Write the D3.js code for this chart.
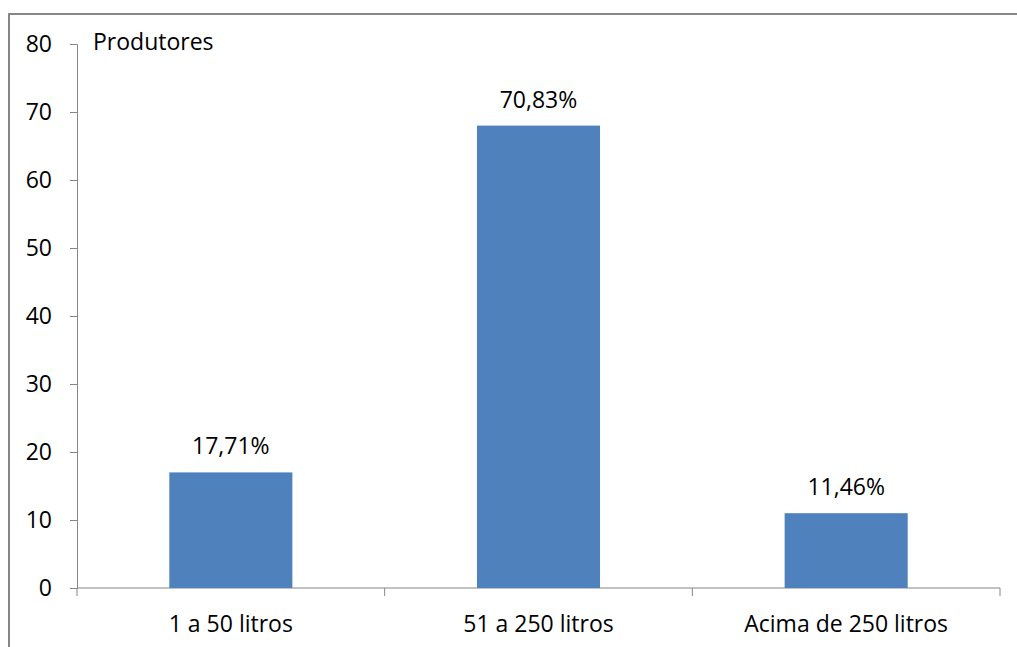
<!DOCTYPE html>
<html>
<head>
<meta charset="utf-8">
<script src="https://cdn.jsdelivr.net/npm/d3@7"></script>
<style>
  html, body { margin: 0; padding: 0; background: #fff; }
  svg text { font-family: "Open Sans", Lato, sans-serif; fill: #000; }
</style>
</head>
<body>
<svg id="chart" width="1017" height="647"></svg>
<script>
// Producers grouped by daily volume range
const categories = ["1 a 50 litros", "51 a 250 litros", "Acima de 250 litros"];
const producers = [17, 68, 11];
const yTicks = [0, 10, 20, 30, 40, 50, 60, 70, 80];
const axisTitle = "Produtores";

const W = 1017, H = 647;
const margin = { left: 77, right: 17, top: 44, bottom: 59 };
const fontSize = 23;
const svg = d3.select("#chart");

// Outer chart frame
svg.append("rect")
  .attr("x", 9).attr("y", 14)
  .attr("width", W + 20).attr("height", H + 20)
  .attr("fill", "none").attr("stroke", "#868686").attr("stroke-width", 2);

const x = d3.scaleBand()
  .domain(categories)
  .range([margin.left, W - margin.right])
  .paddingInner(0.6).paddingOuter(0.3);

const y = d3.scaleLinear()
  .domain([0, 80])
  .range([H - margin.bottom, margin.top]);

const axisColor = "#868686";

// Y axis
const yAxis = svg.append("g")
  .attr("transform", `translate(${margin.left},0)`)
  .call(d3.axisLeft(y).tickValues(yTicks).tickSize(7).tickPadding(18).tickFormat(d3.format("d")));
yAxis.select(".domain").attr("stroke", axisColor);
yAxis.selectAll(".tick line").attr("stroke", axisColor);
yAxis.selectAll(".tick text").attr("font-size", fontSize).attr("fill", "#000")
  .style("font-family", "'Open Sans', Lato, sans-serif");

// X axis: ticks sit on category boundaries
const xAxisG = svg.append("g").attr("transform", `translate(0,${y(0)})`);
xAxisG.append("line")
  .attr("x1", margin.left).attr("x2", W - margin.right)
  .attr("stroke", axisColor);
const step = x.step();
const boundaries = d3.range(categories.length + 1).map(i => margin.left + i * step);
xAxisG.selectAll("line.bound").data(boundaries).join("line")
  .attr("class", "bound")
  .attr("x1", d => d).attr("x2", d => d)
  .attr("y1", 0).attr("y2", 8)
  .attr("stroke", axisColor);
xAxisG.selectAll("text").data(categories).join("text")
  .attr("x", d => x(d) + x.bandwidth() / 2)
  .attr("y", 44)
  .attr("text-anchor", "middle")
  .attr("font-size", fontSize)
  .text(d => d);

// Bars
const total = d3.sum(producers);
const data = categories.map((c, i) => ({ cat: c, value: producers[i] }));
svg.selectAll("rect.bar").data(data).join("rect")
  .attr("class", "bar")
  .attr("x", d => x(d.cat))
  .attr("width", x.bandwidth())
  .attr("y", d => y(d.value))
  .attr("height", d => y(0) - y(d.value))
  .attr("fill", "#4F81BD");

// Share labels above bars
const pct = v => (v / total * 100).toFixed(2).replace(".", ",") + "%";
svg.selectAll("text.val").data(data).join("text")
  .attr("class", "val")
  .attr("x", d => x(d.cat) + x.bandwidth() / 2)
  .attr("y", d => y(d.value) - 18)
  .attr("text-anchor", "middle")
  .attr("font-size", fontSize)
  .text(d => pct(d.value));

// Axis title
svg.append("text")
  .attr("x", 93).attr("y", 50)
  .attr("font-size", fontSize)
  .text(axisTitle);
</script>
</body>
</html>
